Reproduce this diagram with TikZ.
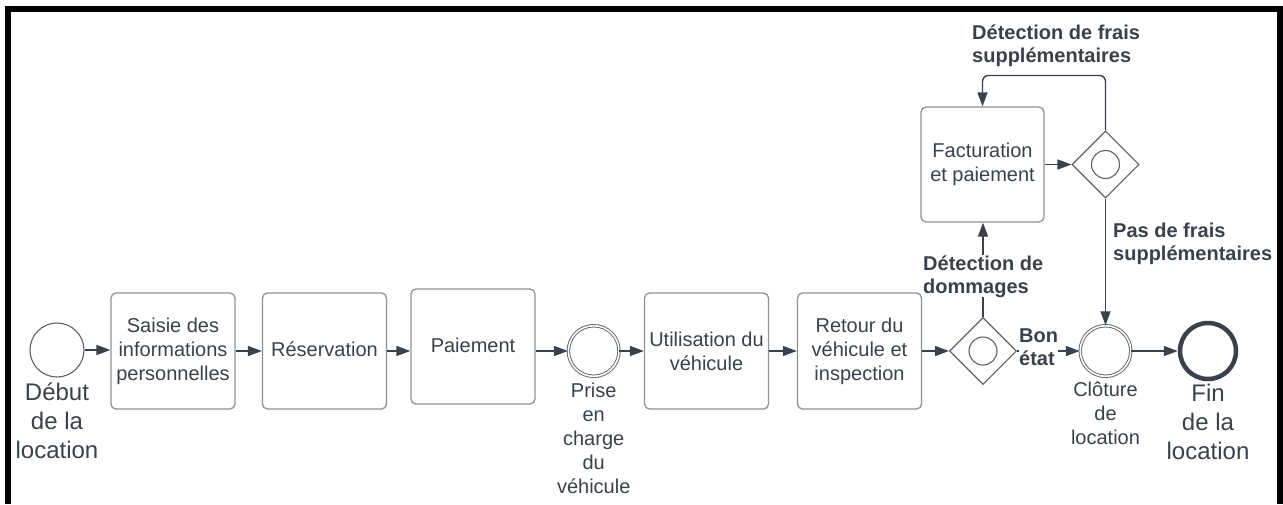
\documentclass[tikz,border=0pt]{standalone}
\usepackage{fontspec}
\setmainfont{Liberation Sans}
\usetikzlibrary{arrows.meta,shapes.geometric,calc}
\definecolor{ink}{HTML}{3A414A}
\definecolor{edge}{HTML}{8C9198}
\definecolor{ringc}{HTML}{5C6168}
\begin{document}
\begin{tikzpicture}[x=1pt,y=-1pt,
  every node/.style={inner sep=0pt, text=ink},
  txt/.style={font=\fontsize{20}{24}\selectfont, align=center},
  bigtxt/.style={font=\fontsize{24}{29}\selectfont, align=center},
  tag/.style={font=\bfseries\fontsize{20}{23}\selectfont, align=left, fill=white},
  task/.style={draw=edge, line width=1.3pt, rounded corners=5pt,
    minimum width=124pt, minimum height=116pt, txt},
  startev/.style={circle, draw=ringc, line width=1.1pt, minimum size=54pt},
  midev/.style={circle, draw=ringc, line width=0.9pt, double=white,
    double distance=1.6pt, minimum size=50.6pt},
  endev/.style={circle, draw=ink, line width=4.5pt, minimum size=56pt},
  gate/.style={diamond, draw=ringc, line width=1.1pt, minimum width=67pt,
    minimum height=67pt, aspect=1},
  flow/.style={draw=ink, line width=1.4pt, -{Triangle[length=14pt,width=10pt]}},
]
\useasboundingbox (0,0) rectangle (1283,504);

% frame, open at the bottom
\draw[line width=6pt] (8,504) -- (8,9) -- (1280,9) -- (1280,504);

% events, tasks and gateways
\node[startev] (start) at (57,350) {};
\node[task] (saisie) at (173,351) {Saisie des\\informations\\personnelles};
\node[task, text depth=0.35em] (resa) at (324.5,351) {Réservation};
\node[task, text depth=0.35em, minimum height=115pt] (paie) at (473,346.5) {Paiement};
\node[midev] (prise) at (593.7,351) {};
\node[task] (usage) at (706.5,351) {Utilisation du\\véhicule};
\node[task] (retour) at (859.5,351) {Retour du\\véhicule et\\inspection};
\node[gate] (g1) at (983,351) {};
\draw[draw=ringc, line width=1.1pt] (g1) circle[radius=14];
\node[midev] (cloture) at (1105.5,351) {};
\node[endev] (fin) at (1208,351) {};
\node[task, minimum width=123pt, minimum height=115pt] (factu) at (982.5,164.5) {Facturation\\et paiement};
\node[gate] (g2) at (1105.5,164.5) {};
\draw[draw=ringc, line width=1.1pt] (g2) circle[radius=14];

% event captions
\node[bigtxt, anchor=north] (capstart) at (57,383) {Début\\de la\\location};
\node[txt, anchor=north] (capprise) at (593.7,382.5) {Prise\\en\\charge\\du\\véhicule};
\node[txt, anchor=north] (capclot) at (1105.5,382) {Clôture\\de\\location};
\node[bigtxt, anchor=north] (capfin) at (1208,384) {Fin\\de la\\location};

% sequence flows
\draw[flow] (start.east) -- (start.east -| saisie.west);
\draw[flow] (saisie) -- (resa);
\draw[flow] (resa.east) -- (resa.east -| paie.west);
\draw[flow] (paie.east |- prise) -- (prise);
\draw[flow] (prise) -- (usage);
\draw[flow] (usage) -- (retour);
\draw[flow] (retour) -- (g1);
\draw[flow] (g1) -- (cloture);
\draw[flow] (cloture) -- (fin);
\draw[flow] (g1.north) -- (g1.north |- factu.south);
\draw[flow] (factu) -- (g2);
\draw[flow, rounded corners=6pt] (g2.north) -- ++(0,-55) -| (factu.north);
\draw[flow] (g2) -- (cloture);

% flow labels
\node[tag, anchor=north west] (tfrais) at (972,24.7) {Détection de frais\\supplémentaires};
\node[tag, anchor=north west] (tpas) at (1113,222.5) {Pas de frais\\supplémentaires};
\node[tag, anchor=north west] (tdom) at (923,255.2) {Détection de\\dommages};
\node[tag, anchor=north west] (tbon) at (1019,329) {Bon\\état};
\end{tikzpicture}
\end{document}
